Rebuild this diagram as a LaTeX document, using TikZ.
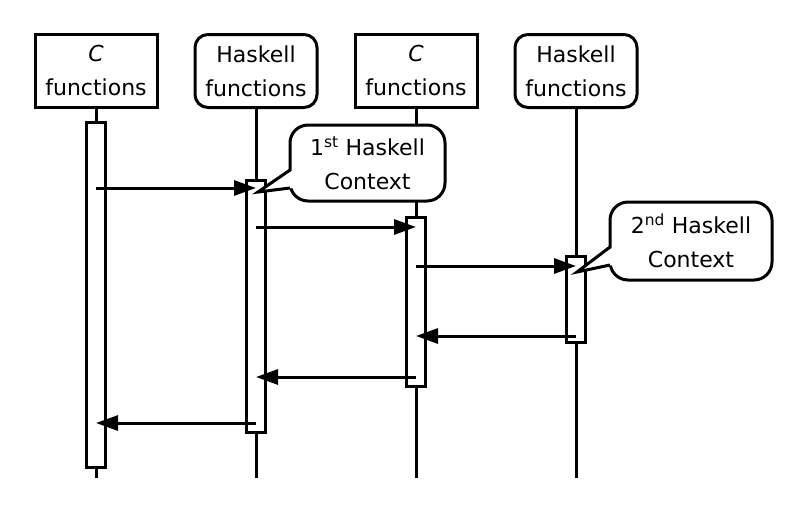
\documentclass[tikz,border=0pt]{standalone}
\usepackage{fontspec}
\setmainfont{DejaVu Sans}
\usetikzlibrary{arrows.meta}
\begin{document}
\begin{tikzpicture}[x=1pt,y=-1pt,line width=3pt,
  lbl/.style={font=\fontsize{22}{34}\selectfont},
  cbox/.style={lbl,draw,fill=white,minimum width=122pt,minimum height=73pt,inner sep=0pt,align=center},
  hbox/.style={cbox,rounded corners=13pt},
  act/.style={draw,fill=white,minimum width=19pt,inner sep=0pt},
  msg/.style={-{Triangle[length=22pt,width=15pt]}},
  bubble/.style={lbl,draw,fill=white,rounded corners=18pt,align=center,inner sep=0pt},
  life/.style={line width=3pt}]
\useasboundingbox (0,0) rectangle (800,512);
% headers
\node[cbox] (c1) at (96,70.5) {\textit{C}\\functions};
\node[hbox] (h1) at (256,71) {Haskell\\functions};
\node[cbox] (c2) at (416,70.5) {\textit{C}\\functions};
\node[hbox] (h2) at (576,71) {Haskell\\functions};
% lifeline ends
\coordinate (bot) at (0,478);
\draw[life] (c1.south) -- (c1 |- bot);
\draw[life] (h1.south) -- (h1 |- bot);
\draw[life] (c2.south) -- (c2 |- bot);
\draw[life] (h2.south) -- (h2 |- bot);
% activations
\node[act,minimum height=345pt] (a1) at (96,294.5) {};
\node[act,minimum height=252pt] (a2) at (256,306) {};
\node[act,minimum height=169pt] (a3) at (416,301.5) {};
\node[act,minimum height=86pt]  (a4) at (576,299) {};
% callouts
\node[bubble,minimum width=155pt,minimum height=76pt] (b1) at (367.5,163) {1\textsuperscript{st} Haskell\\Context};
\coordinate (b1u) at (290,170);
\coordinate (b1l) at (290,188);
\coordinate (b1t) at (258,192);
\fill[white] ([xshift=3pt]b1u) -- (b1t) -- ([xshift=3pt]b1l) -- cycle;
\draw[line join=miter] (b1u) -- (b1t) -- (b1l);
\node[bubble,minimum width=162pt,minimum height=78pt] (b2) at (691,241) {2\textsuperscript{nd} Haskell\\Context};
\coordinate (b2u) at (610,247);
\coordinate (b2l) at (610,265);
\coordinate (b2t) at (577,272);
\fill[white] ([xshift=3pt]b2u) -- (b2t) -- ([xshift=3pt]b2l) -- cycle;
\draw[line join=miter] (b2u) -- (b2t) -- (b2l);
% messages
\coordinate (y1) at (0,188);
\coordinate (y2) at (0,227);
\coordinate (y3) at (0,266);
\coordinate (y4) at (0,336);
\coordinate (y5) at (0,377);
\coordinate (y6) at (0,423);
\draw[msg] (a1 |- y1) -- (a2 |- y1);
\draw[msg] (a2 |- y2) -- (a3 |- y2);
\draw[msg] (a3 |- y3) -- (a4 |- y3);
\draw[msg] (a4 |- y4) -- (a3 |- y4);
\draw[msg] (a3 |- y5) -- (a2 |- y5);
\draw[msg] (a2 |- y6) -- (a1 |- y6);
\end{tikzpicture}
\end{document}
